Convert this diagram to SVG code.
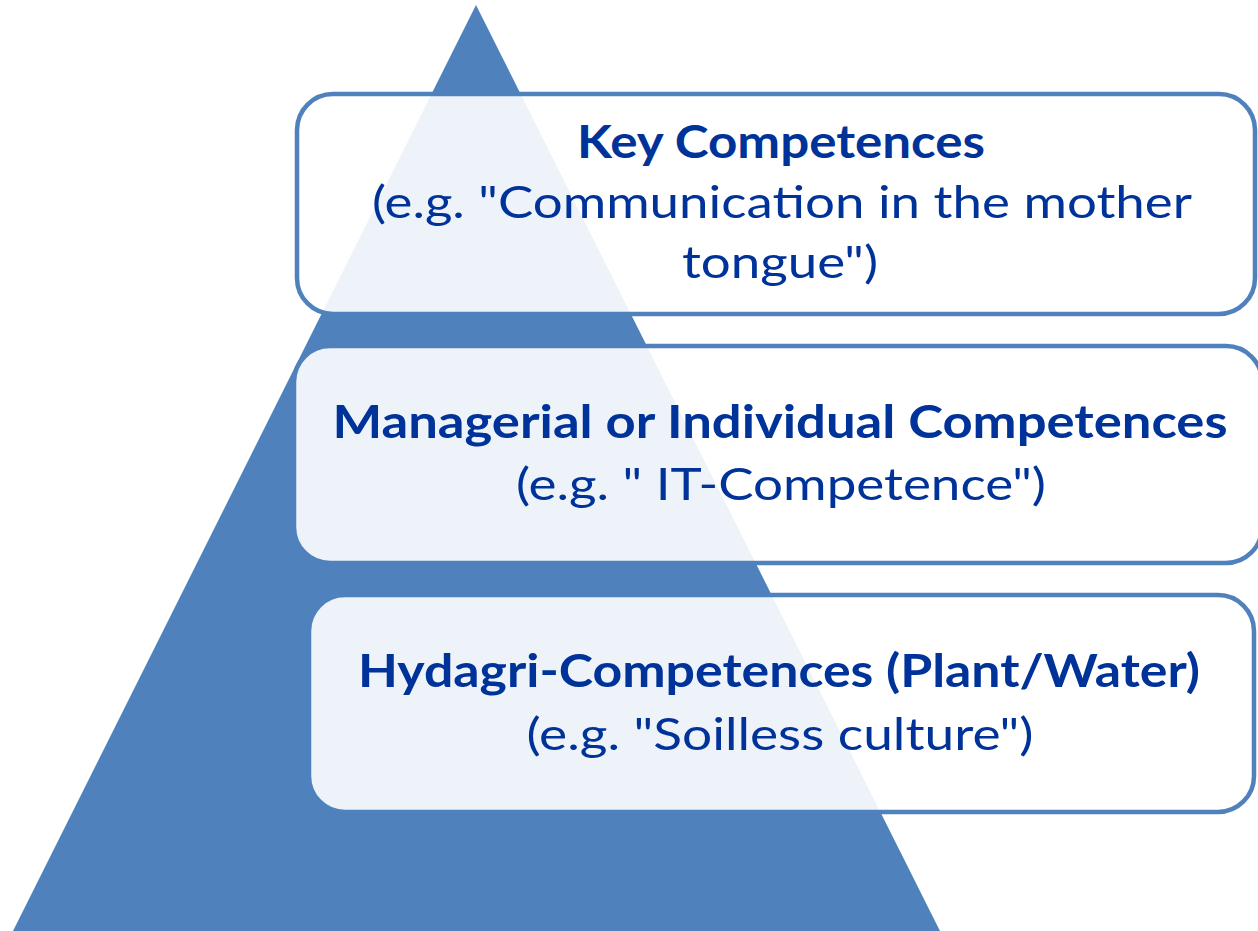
<svg xmlns="http://www.w3.org/2000/svg" width="1258" height="931" viewBox="0 0 1258 931">
<style>
.box{fill:#ffffff;fill-opacity:0.9;stroke:#4F81BD;stroke-width:4.5}
.t{font-family:Lato,"Open Sans","Liberation Sans",sans-serif;fill:#003399;text-anchor:middle;font-size:45px}
.b{font-weight:bold}
</style>
<rect width="1258" height="931" fill="#ffffff"/>
<g id="pyramid">
<polygon points="476,5 13,931 940,931" fill="#4F81BD"/>
</g>
<g id="connectors"/>
<g id="key">
<rect class="box" x="297" y="94" width="958" height="220" rx="36"/>
<text class="t b" x="781" y="158" textLength="408" lengthAdjust="spacingAndGlyphs">Key Competences</text>
<text class="t" x="782" y="218" textLength="820" lengthAdjust="spacingAndGlyphs">(e.g. "Communication in the mother</text>
<text class="t" x="780" y="278" textLength="196" lengthAdjust="spacingAndGlyphs">tongue")</text>
</g>
<g id="managerial">
<rect class="box" x="294" y="346" width="968" height="217" rx="36"/>
<text class="t b" x="780" y="438" textLength="895" lengthAdjust="spacingAndGlyphs">Managerial or Individual Competences</text>
<text class="t" x="781" y="500" textLength="530" lengthAdjust="spacingAndGlyphs">(e.g. " IT-Competence")</text>
</g>
<g id="hydagri">
<rect class="box" x="309" y="595" width="945" height="217" rx="36"/>
<text class="t b" x="779" y="687" textLength="842" lengthAdjust="spacingAndGlyphs">Hydagri-Competences (Plant/Water)</text>
<text class="t" x="780" y="750" textLength="507" lengthAdjust="spacingAndGlyphs">(e.g. "Soilless culture")</text>
</g>
</svg>
